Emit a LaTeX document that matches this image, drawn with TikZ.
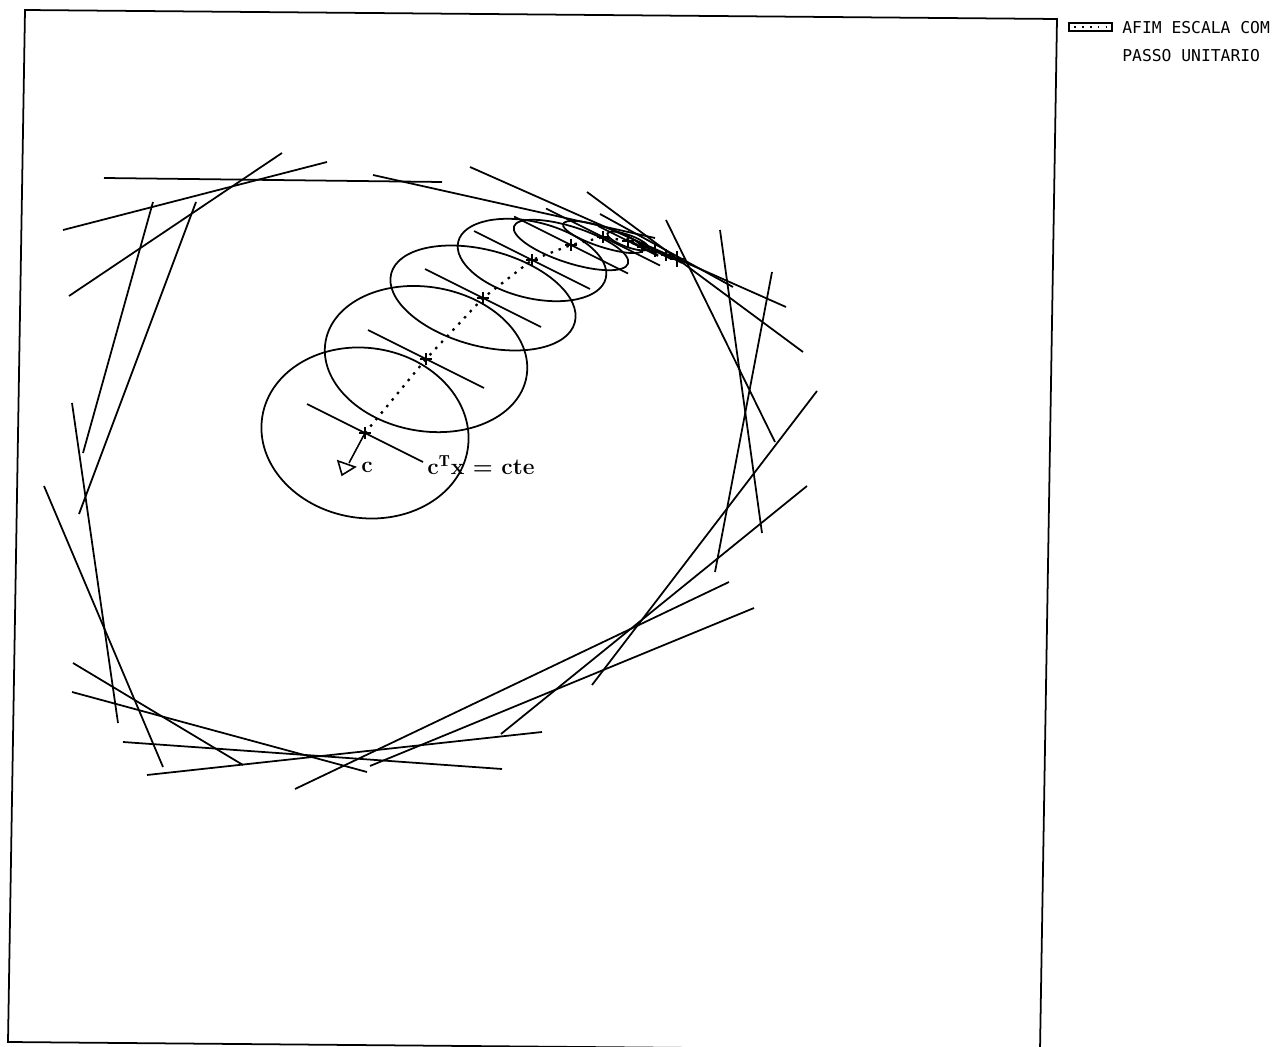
\documentclass[tikz,border=0pt]{standalone}
\usepackage{fontspec}
\newfontfamily\plotfont{DejaVu Sans Mono}
\usetikzlibrary{positioning}
\tikzset{
  frame/.style={line width=1pt,draw=black},
  cut/.style={line width=1pt,draw=black},
  ell/.style={line width=1pt,draw=black},
  lvl/.style={line width=0.9pt,draw=black},
  cross/.style={line width=0.7pt,draw=black},
  trail/.style={line width=1.3pt,draw=black,dash pattern=on 1.4pt off 3.4pt},
  lab/.style={font=\fontsize{13}{15}\selectfont\bfseries,inner sep=0pt},
  leg/.style={font=\plotfont\fontsize{9.3}{11}\selectfont,inner sep=0pt,anchor=west},
}

\begin{document}
\begin{tikzpicture}[x=0.02cm,y=-0.02cm]
  \useasboundingbox (0,0) rectangle (1279,1047);
  % frame of the plot
  \draw[frame] (25,10) -- (1057,19) -- (1040,1051) -- (8,1042) -- cycle;

  % constraints of the polytope
  \foreach \xa/\ya/\xb/\yb in {104/178/442/182, 63/230/327/162, 69/296/282/153,
      373/175/655/238, 470/167/786/307, 587/192/803/352, 600/214/733/287,
      666/220/775/442, 720/230/762/533, 772/272/715/572, 817/391/592/685,
      807/486/501/734, 754/608/370/766, 729/582/295/789, 542/732/147/775,
      502/769/123/742, 367/772/72/692, 243/765/73/663, 163/767/44/486,
      118/723/72/403, 79/514/196/202, 83/453/153/202}
    \draw[cut] (\xa,\ya) -- (\xb,\yb);

  % ellipses, level lines and iterates
  \foreach \i/\cx/\cy/\rx/\ry/\ang/\len in {1/365/433/104/85/-9/58, 2/426/359/102/72/-10/58,
      3/483/298/95/48/-15/58, 4/532/260/76/38/-14/58, 5/571/245/60/18/-18/57,
      6/603/237/42/10/-18/57, 7/628/241/22/6/-20/30}
  {
    \coordinate (p\i) at (\cx,\cy);
    \draw[ell, rotate around={\ang:(p\i)}] (p\i) ellipse [x radius=\rx, y radius=\ry];
    \draw[lvl] (p\i) +(-\len,-\len/2) -- +(\len,\len/2);
    \draw[cross] (p\i) +(-6,0) -- +(6,0) +(0,-6) -- +(0,6);
  }
  \foreach \i/\cx/\cy in {8/642/247, 9/655/251, 10/666/255}
  {
    \coordinate (p\i) at (\cx,\cy);
    \draw[cross] (p\i) +(-5,0) -- +(5,0) +(0,-6) -- +(0,6);
    \draw[lvl] (p\i) +(-16,-8) -- +(16,8);
  }
  \coordinate (opt) at (677,259);
  \draw[cross,line width=1.6pt] (opt) +(-7,0) -- +(7,0) +(0,-8) -- +(0,8);
  \draw[trail] (p1) -- (p2) -- (p3) -- (p4) -- (p5) -- (p6) -- (p7) -- (p8) -- (p9) -- (p10) -- (opt);

  % direction c
  \coordinate (ctip) at (349,463);
  \draw[line width=0.9pt] (p1) -- (ctip);
  \draw[line width=0.9pt] (338,461) -- (342,475) -- (355,467) -- cycle;
  \node[lab] (clab) at (367,467) {c};
  \node[lab] (level) at (481,465) {c$^{\mathbf{T}}$x = cte};

  % legend
  \draw[line width=0.8pt] (1069,23) rectangle (1112,31);
  \draw[line width=1pt,dash pattern=on 1pt off 3.5pt] (1074,27) -- (1108,27);
  \node[leg] (leg1) at (1122,28) {AFIM ESCALA COM};
  \node[leg] (leg2) at (1122,56) {PASSO UNITARIO};
\end{tikzpicture}
\end{document}
